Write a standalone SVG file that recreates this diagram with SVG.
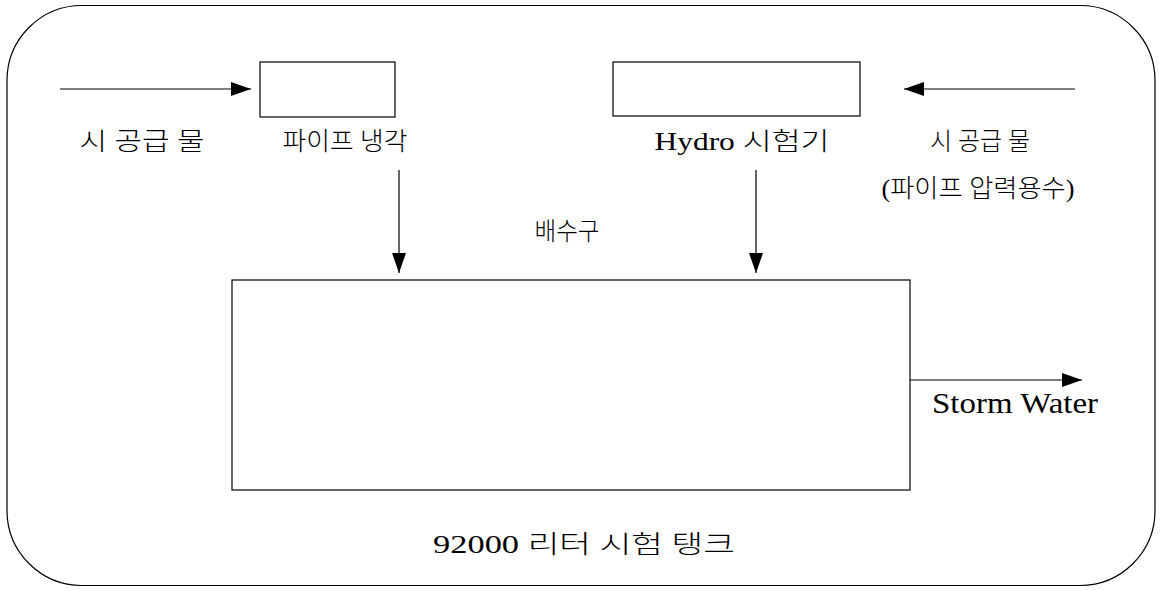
<svg xmlns="http://www.w3.org/2000/svg" width="1161" height="591" viewBox="0 0 1161 591">
<style>
.box{fill:none;stroke:#000;stroke-width:1.2}
.ln{fill:none;stroke:#000;stroke-width:1.2}
.t{font-family:"Liberation Serif","Noto Sans CJK KR",serif;font-size:25px;font-weight:300;fill:#000}
</style>
<defs>
<marker id="ah" viewBox="0 0 20 14" refX="20" refY="7" markerWidth="20" markerHeight="14" markerUnits="userSpaceOnUse" orient="auto">
<path d="M0,0 L20,7 L0,14 Z" fill="#000"/>
</marker>
</defs>
<rect width="1161" height="591" fill="#fff"/>
<rect id="frame" x="7" y="5.5" width="1148" height="580" rx="75" ry="75" class="box"/>
<g id="pipe-cooling">
<rect x="260" y="62" width="135" height="55" class="box"/>
<text class="t" x="345" y="150" text-anchor="middle" textLength="125" lengthAdjust="spacingAndGlyphs">파이프 냉각</text>
</g>
<g id="hydro-tester">
<rect x="613" y="62" width="247" height="54" class="box"/>
<text class="t" x="742" y="150" text-anchor="middle" textLength="175" lengthAdjust="spacingAndGlyphs">Hydro 시험기</text>
</g>
<g id="tank">
<rect x="232" y="280" width="678" height="210" class="box"/>
<text class="t" x="584" y="553" text-anchor="middle" textLength="302" lengthAdjust="spacingAndGlyphs">92000 리터 시험 탱크</text>
</g>
<g id="labels">
<text class="t" x="142" y="150" text-anchor="middle" textLength="125" lengthAdjust="spacingAndGlyphs">시 공급 물</text>
<text class="t" x="980" y="150" text-anchor="middle" textLength="100" lengthAdjust="spacingAndGlyphs">시 공급 물</text>
<text class="t" x="978" y="197" text-anchor="middle" textLength="193" lengthAdjust="spacingAndGlyphs">(파이프 압력용수)</text>
<text class="t" x="567" y="240" text-anchor="middle" textLength="65" lengthAdjust="spacingAndGlyphs">배수구</text>
<text class="t" x="1015" y="413" text-anchor="middle" textLength="166" lengthAdjust="spacingAndGlyphs" style="font-size:30px">Storm Water</text>
</g>
<g id="connectors">
<line x1="60" y1="89" x2="251" y2="89" class="ln" marker-end="url(#ah)"/>
<line x1="1075" y1="89" x2="904" y2="89" class="ln" marker-end="url(#ah)"/>
<line x1="399" y1="170" x2="399" y2="273" class="ln" marker-end="url(#ah)"/>
<line x1="756" y1="170" x2="756" y2="273" class="ln" marker-end="url(#ah)"/>
<line x1="910" y1="380" x2="1082" y2="380" class="ln" marker-end="url(#ah)"/>
</g>
</svg>
